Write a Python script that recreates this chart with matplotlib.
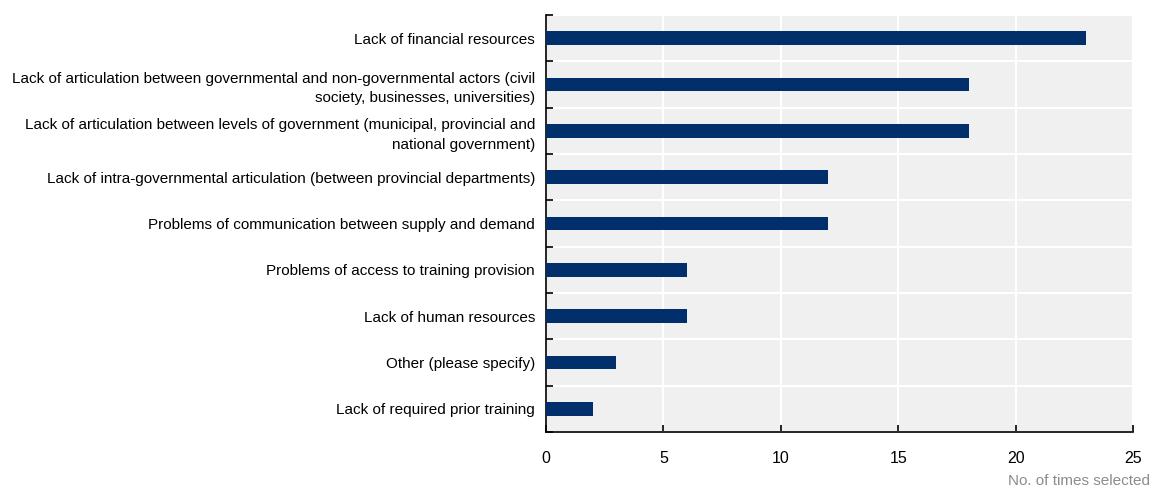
import numpy as np
import matplotlib
matplotlib.use("Agg")
import matplotlib.pyplot as plt
from matplotlib.ticker import FixedLocator

plt.rcParams["font.family"] = ["Liberation Sans Narrow", "Liberation Sans", "DejaVu Sans"]

# Data (top to bottom as shown)
categories = [
    "Lack of financial resources",
    "Lack of articulation between governmental and non-governmental actors (civil\nsociety, businesses, universities)",
    "Lack of articulation between levels of government (municipal, provincial and\nnational government)",
    "Lack of intra-governmental articulation (between provincial departments)",
    "Problems of communication between supply and demand",
    "Problems of access to training provision",
    "Lack of human resources",
    "Other (please specify)",
    "Lack of required prior training",
]
times_selected = [23, 18, 18, 12, 12, 6, 6, 3, 2]
x_ticks = [0, 5, 10, 15, 20, 25]

BAR_COLOR = "#002f6c"
BG_COLOR = "#f0f0f0"

fig = plt.figure(figsize=(11.54, 4.91), dpi=100)
ax = fig.add_axes([546 / 1154, 1 - 432 / 491, (1133 - 546) / 1154, (432 - 15) / 491])

n = len(categories)
ypos = np.arange(n)
ax.barh(ypos, times_selected, height=0.3, color=BAR_COLOR, zorder=3)

ax.set_xlim(0, 25)
ax.set_ylim(n - 0.5, -0.5)
ax.set_facecolor(BG_COLOR)

ax.set_xticks(x_ticks)
ax.set_xticklabels([str(t) for t in x_ticks], fontsize=11.5)
ax.set_yticks(ypos)
ax.set_yticklabels(categories, fontsize=11, linespacing=1.5)
ax.yaxis.set_minor_locator(FixedLocator(np.arange(n + 1) - 0.5))

ax.tick_params(axis="y", which="major", length=0, pad=8)
ax.tick_params(axis="y", which="minor", direction="in", length=5, width=1.2, color="black")
ax.tick_params(axis="x", direction="in", length=5, width=1.2, pad=14)

ax.grid(axis="x", which="major", color="white", linewidth=1.5, zorder=1)
ax.grid(axis="y", which="minor", color="white", linewidth=1.5, zorder=1)

for side in ["top", "right"]:
    ax.spines[side].set_visible(False)
for side in ["left", "bottom"]:
    ax.spines[side].set_color("black")
    ax.spines[side].set_linewidth(1.2)

fig.text(1150 / 1154, 1 - 485 / 491, "No. of times selected", ha="right", va="baseline",
         fontsize=11, color="#8c8c8c")

fig.savefig("out.png", dpi=100)
